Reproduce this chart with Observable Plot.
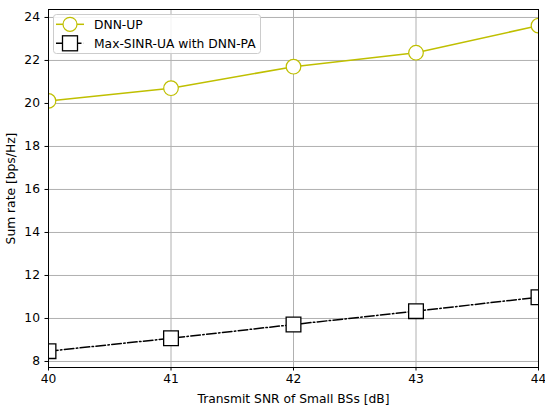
<!DOCTYPE html>
<html><head>
<meta charset="utf-8">
<script src="https://cdn.jsdelivr.net/npm/d3@7"></script>
<script src="https://cdn.jsdelivr.net/npm/@observablehq/plot@0.6"></script>
<style>
body{margin:0;background:#fff;font-family:"DejaVu Sans",sans-serif}
#wrap{position:relative;width:545px;height:407px}
#legend{position:absolute;left:53px;top:14px}
</style>
</head><body><div id="wrap"></div>
<script>
const snr = [40, 41, 42, 43, 44];
const dnnUP = [20.12, 20.71, 21.71, 22.36, 23.62];
const maxSinr = [8.48, 9.08, 9.72, 10.34, 10.99];
const xTicks = [40, 41, 42, 43, 44];
const yTicks = [8, 10, 12, 14, 16, 18, 20, 22, 24];
const seriesNames = ["DNN-UP", "Max-SINR-UA with DNN-PA"];
const seriesColors = ["#bfbf00", "#000000"];

const dataUP = snr.map((x, i) => ({x, y: dnnUP[i]}));
const dataMS = snr.map((x, i) => ({x, y: maxSinr[i]}));

const chart = Plot.plot({
  width: 545, height: 407,
  marginLeft: 48, marginRight: 7, marginTop: 9, marginBottom: 40,
  style: {fontFamily: "DejaVu Sans", fontSize: "12.3px", color: "#000", background: "#fff"},
  x: {domain: [40, 44]},
  y: {domain: [7.72, 24.37]},
  marks: [
    Plot.gridX(xTicks, {stroke: "#b0b0b0", strokeOpacity: 1, strokeWidth: 1}),
    Plot.gridY(yTicks, {stroke: "#b0b0b0", strokeOpacity: 1, strokeWidth: 1}),
    Plot.line(dataUP, {x: "x", y: "y", stroke: seriesColors[0], strokeWidth: 1.5, clip: true}),
    Plot.dot(dataUP, {x: "x", y: "y", r: 7.3, symbol: "circle", fill: "white", stroke: seriesColors[0], strokeWidth: 1.2, clip: true}),
    Plot.line(dataMS, {x: "x", y: "y", stroke: seriesColors[1], strokeWidth: 1.5, strokeDasharray: "9.6,2.4,1.5,2.4", clip: true}),
    Plot.dot(dataMS, {x: "x", y: "y", r: 8.3, symbol: "square", fill: "white", stroke: seriesColors[1], strokeWidth: 1.3, clip: true}),
    Plot.frame({stroke: "#000", strokeWidth: 1}),
    Plot.axisX({ticks: xTicks, tickSize: 3.5, tickPadding: 3, tickFormat: d => String(d), label: "Transmit SNR of Small BSs [dB]", labelAnchor: "center", labelArrow: "none", labelOffset: 35, fontSize: 12.3}),
    Plot.axisY({ticks: yTicks, tickSize: 3.5, tickPadding: 5, tickFormat: d => String(d), label: "Sum rate [bps/Hz]", labelAnchor: "center", labelArrow: "none", labelOffset: 42, fontSize: 12.3})
  ]
});
const wrap = document.getElementById("wrap");
wrap.appendChild(chart);

// legend
const NS = "http://www.w3.org/2000/svg";
const dashes = ["", "9.6,2.4,1.5,2.4"];
let s = `<svg id="legend" xmlns="${NS}" width="209" height="41" style="font-family:'DejaVu Sans';font-size:12.3px">`;
s += `<rect x="0.5" y="0.5" width="207" height="39" rx="3" fill="rgba(255,255,255,0.85)" stroke="#cccccc"/>`;
seriesNames.forEach((name, i) => {
  const cy = i === 0 ? 10.3 : 29.3;
  s += `<line x1="3" y1="${cy}" x2="31" y2="${cy}" stroke="${seriesColors[i]}" stroke-width="1.5" ${dashes[i] ? `stroke-dasharray="${dashes[i]}"` : ""}/>`;
  s += i === 0
    ? `<circle cx="17" cy="${cy}" r="7" fill="white" stroke="${seriesColors[i]}" stroke-width="1.2"/>`
    : `<rect x="9.5" y="${cy - 7.5}" width="15" height="15" fill="white" stroke="${seriesColors[i]}" stroke-width="1.3"/>`;
  s += `<text x="41" y="${cy}" dy="0.35em" fill="#000">${name}</text>`;
});
s += `</svg>`;
wrap.insertAdjacentHTML("beforeend", s);
</script>
</body></html>
